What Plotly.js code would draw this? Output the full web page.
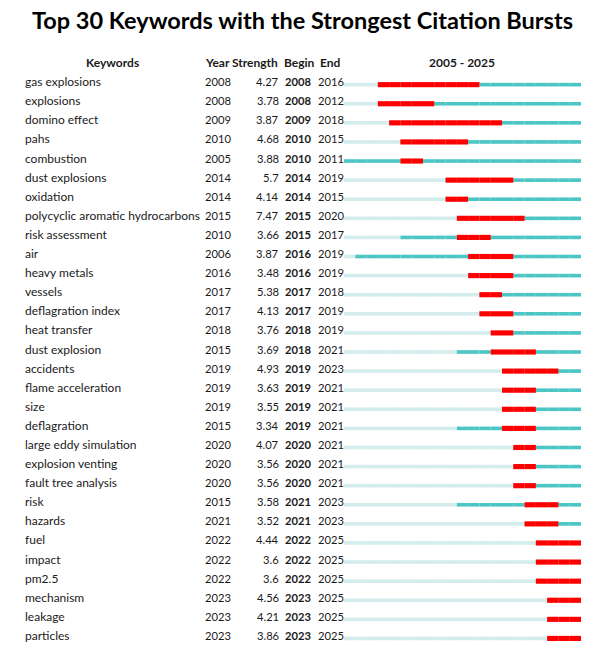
<!DOCTYPE html>
<html>
<head>
<meta charset="utf-8">
<script src="https://cdn.plot.ly/plotly-3.0.1.min.js"></script>
<style>html,body{margin:0;padding:0;background:#fff;}#chart{width:605px;height:659px;}</style>
</head>
<body>
<div id="chart"></div>
<script>
const keywords = ["gas explosions","explosions","domino effect","pahs","combustion","dust explosions","oxidation","polycyclic aromatic hydrocarbons","risk assessment","air","heavy metals","vessels","deflagration index","heat transfer","dust explosion","accidents","flame acceleration","size","deflagration","large eddy simulation","explosion venting","fault tree analysis","risk","hazards","fuel","impact","pm2.5","mechanism","leakage","particles"];
const years = [2008,2008,2009,2010,2005,2014,2014,2015,2010,2006,2016,2017,2017,2018,2015,2019,2019,2019,2015,2020,2020,2020,2015,2021,2022,2022,2022,2023,2023,2023];
const strengths = ["4.27","3.78","3.87","4.68","3.88","5.7","4.14","7.47","3.66","3.87","3.48","5.38","4.13","3.76","3.69","4.93","3.63","3.55","3.34","4.07","3.56","3.56","3.58","3.52","4.44","3.6","3.6","4.56","4.21","3.86"];
const begins = [2008,2008,2009,2010,2010,2014,2014,2015,2015,2016,2016,2017,2017,2018,2018,2019,2019,2019,2019,2020,2020,2020,2021,2021,2022,2022,2022,2023,2023,2023];
const ends = [2016,2012,2018,2015,2011,2019,2015,2020,2017,2019,2019,2018,2019,2019,2021,2023,2021,2021,2021,2021,2021,2021,2023,2023,2025,2025,2025,2025,2025,2025];
const startYear = 2005, endYear = 2025;

const W = 605;
const FONT = "Lato, 'Open Sans', sans-serif";
const TXT = "#1a1a1a";

// build per-year segments
const light = {y:[],x:[],base:[]}, teal = {y:[],x:[],base:[]}, red = {y:[],x:[],base:[]};
keywords.forEach((k,i)=>{
  for(let yr=startYear; yr<=endYear; yr++){
    const seg = yr < years[i] ? light : teal;
    seg.y.push(i); seg.x.push(1); seg.base.push(yr);
    if(yr>=begins[i] && yr<=ends[i]){ red.y.push(i); red.x.push(1); red.base.push(yr); }
  }
});
function barTrace(d,color,thick){
  return {type:'bar',orientation:'h',y:d.y,x:d.x,base:d.base,width:thick,
    marker:{color:color,line:{width:0}},
    hoverinfo:'skip',showlegend:false};
}
const traces = [
  barTrace(light,'#d3ecec',0.19),
  barTrace(teal,'#4cc5c5',0.19),
  barTrace(red,'#ff0000',0.27)
];

const ann = [];
function a(x,y,text,anchor,bold,size){
  ann.push({xref:'paper',yref:'y',x:x/W,y:y,text:bold?'<b>'+text+'</b>':text,xanchor:anchor,yanchor:'middle',
    showarrow:false,yshift:3,font:{family:FONT,size:size||12,color:TXT}});
}
a(112,-1,'Keywords','center',true);
a(203,-1,'Year','left',true);
a(230,-1,'Strength','left',true);
a(282,-1,'Begin','left',true);
a(318,-1,'End','left',true);
a(462,-1,'2005 - 2025','center',true);
keywords.forEach((k,i)=>{
  a(23,i,k,'left',false);
  a(203,i,String(years[i]),'left',false,11.2);
  a(281,i,strengths[i],'right',false,11.2);
  a(283,i,String(begins[i]),'left',true,11.2);
  a(316,i,String(ends[i]),'left',false,11.2);
});

const layout = {
  width:605,height:659,
  margin:{l:0,r:0,t:56.4,b:11.4},
  paper_bgcolor:'#fff',plot_bgcolor:'#fff',
  barmode:'overlay',
  title:{text:'<b>Top 30 Keywords with the Strongest Citation Bursts</b>',x:0.5,xanchor:'center',y:1-21/659,yanchor:'middle',yref:'container',
    font:{family:FONT,size:23.5,color:'#000'}},
  xaxis:{domain:[344/W,581/W],range:[startYear,endYear+1],showgrid:false,zeroline:false,showticklabels:false,ticks:'',showline:false,fixedrange:true},
  yaxis:{range:[29.5,-1.5],autorange:false,showgrid:false,zeroline:false,showticklabels:false,ticks:'',showline:false,fixedrange:true},
  annotations:ann,
  showlegend:false
};
Plotly.newPlot('chart',traces,layout,{displayModeBar:false,staticPlot:true});
</script>
</body>
</html>
